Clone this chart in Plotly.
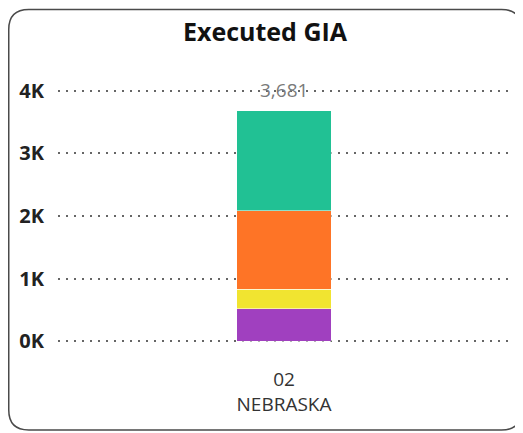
import plotly.graph_objects as go

# Dados
categorias = ["02<br>NEBRASKA"]
segmentos = ["Segment 1", "Segment 2", "Segment 3", "Segment 4"]
valores = [[519], [313], [1248], [1601]]
cores = ["#A040BF", "#F1E430", "#FE7426", "#21C194"]
ticks_y = [0, 1000, 2000, 3000, 4000]
ticks_y_texto = ["0K", "1K", "2K", "3K", "4K"]

# a pagina tem 8px de margem no body, entao a figura fica 8px menor
W, H = 515, 425
L, R, T, B = 50, 13, 79.5, 88.8

fig = go.Figure()
for nome, v, c in zip(segmentos, valores, cores):
    fig.add_trace(go.Bar(x=categorias, y=v, name=nome, marker_color=c,
                         marker_line=dict(color="white", width=0.5), width=0.21))

total = sum(v[0] for v in valores)
fig.add_annotation(x=categorias[0], y=total, text=f"{total:,}", showarrow=False,
                   yshift=21, font=dict(size=19, color="#7a7a7a"))

# Borda arredondada do cartao (coordenadas em pixels -> paper)
pw, ph = W - L - R, H - T - B
def px(x):
    return (x - L) / pw
def py(y):
    return (H - B - y) / ph
x0, y0, x1, y1, r = 0.75, 0.75, 513.5, 422.5, 20
path = (f"M {px(x0 + r)} {py(y0)} L {px(x1 - r)} {py(y0)} "
        f"Q {px(x1)} {py(y0)} {px(x1)} {py(y0 + r)} L {px(x1)} {py(y1 - r)} "
        f"Q {px(x1)} {py(y1)} {px(x1 - r)} {py(y1)} L {px(x0 + r)} {py(y1)} "
        f"Q {px(x0)} {py(y1)} {px(x0)} {py(y1 - r)} L {px(x0)} {py(y0 + r)} "
        f"Q {px(x0)} {py(y0)} {px(x0 + r)} {py(y0)} Z")
fig.add_shape(type="path", path=path, xref="paper", yref="paper",
              line=dict(color="#4a4a4a", width=1.5), layer="above")

fig.update_layout(
    width=W, height=H, barmode="stack", showlegend=False,
    margin=dict(l=L, r=R, t=T, b=B),
    paper_bgcolor="white", plot_bgcolor="white",
    font=dict(family="Segoe UI, Open Sans, sans-serif", color="#333333"),
    title=dict(text="<b>Executed GIA</b>", x=257 / W, xref="container", xanchor="center",
               y=1 - 24 / H, yanchor="middle", font=dict(size=25, color="#111111")),
)
fig.update_yaxes(range=[-40, 4040], tickvals=ticks_y,
                 ticktext=[f"<b>{t}</b>" for t in ticks_y_texto],
                 tickfont=dict(size=20, color="#222222"), ticklabelstandoff=13,
                 showgrid=True, gridcolor="#666666", gridwidth=1.5, griddash="1.5px,6.5px",
                 zeroline=False, showline=False)
fig.update_xaxes(tickfont=dict(size=19, color="#333333"), ticklabelstandoff=22,
                 showline=False, showgrid=False)

fig.write_html("out.html")
